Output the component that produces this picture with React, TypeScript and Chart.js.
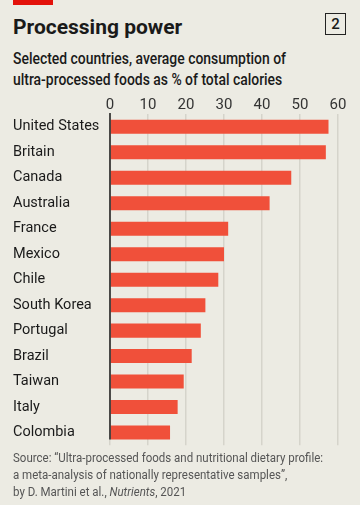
import React, { useEffect, useRef } from "react";
import { Chart, registerables } from "chart.js";

Chart.register(...registerables);

const countries = [
  "United States", "Britain", "Canada", "Australia", "France", "Mexico", "Chile",
  "South Korea", "Portugal", "Brazil", "Taiwan", "Italy", "Colombia",
];
const sharePct = [57.5, 56.8, 47.7, 42.0, 31.1, 30.0, 28.5, 25.1, 23.9, 21.5, 19.4, 17.8, 15.8];
const xTicks = [0, 10, 20, 30, 40, 50, 60];

const BG = "#ECEBE3";
const BAR = "#F0503A";
const FONT = "Roboto, 'Noto Sans', sans-serif";

const zeroLine = {
  id: "zeroLine",
  afterDatasetsDraw(chart: any) {
    const { ctx, chartArea, scales } = chart;
    const meta = chart.getDatasetMeta(0);
    const last: any = meta.data[meta.data.length - 1];
    const x = scales.x.getPixelForValue(0);
    ctx.save();
    ctx.strokeStyle = "#1a1a1a";
    ctx.lineWidth = 1.5;
    ctx.beginPath();
    ctx.moveTo(x, chartArea.top - 1);
    ctx.lineTo(x, last.y + last.height / 2);
    ctx.stroke();
    ctx.restore();
  },
};

export default function App() {
  const ref = useRef<HTMLCanvasElement>(null);
  useEffect(() => {
    document.body.style.margin = "0";
    const chart = new Chart(ref.current!, {
      type: "bar",
      data: {
        labels: countries,
        datasets: [{ data: sharePct, backgroundColor: BAR, barPercentage: 0.55, categoryPercentage: 1 }],
      },
      options: {
        indexAxis: "y",
        animation: false,
        responsive: false,
        maintainAspectRatio: false,
        layout: { padding: { left: 13, right: 22, top: 0, bottom: 0 } },
        plugins: { legend: { display: false }, tooltip: { enabled: false } },
        scales: {
          x: {
            position: "top",
            min: 0,
            max: 60,
            afterBuildTicks: (s: any) => { s.ticks = xTicks.map((v) => ({ value: v })); },
            ticks: { color: "#333", font: { family: FONT, size: 15 }, padding: 0 },
            grid: { color: "#D5D4CB", lineWidth: 1.5, drawTicks: false },
            border: { display: false },
          },
          y: {
            afterFit: (s: any) => { s.width = 97; },
            ticks: { crossAlign: "far", color: "#1a1a1a", font: { family: FONT, size: 14.5 }, padding: 0 },
            grid: { display: false },
            border: { display: false },
          },
        },
      },
      plugins: [zeroLine],
    });
    return () => chart.destroy();
  }, []);

  return (
    <div style={{ position: "relative", width: 360, height: 505, background: BG, fontFamily: FONT, overflow: "hidden" }}>
      <div style={{ position: "absolute", left: 13, top: 0, width: 40, height: 5, background: "#E3120B" }} />
      <div style={{ position: "absolute", left: 13, top: 15, fontSize: 21, fontWeight: 700, color: "#1a1a1a" }}>Processing power</div>
      <div style={{ position: "absolute", left: 325, top: 13, width: 19, height: 20, border: "1.5px solid #222", fontSize: 15, fontWeight: 500, color: "#1a1a1a", textAlign: "center", lineHeight: "20px" }}>2</div>
      <div style={{ position: "absolute", left: 13, top: 48, fontSize: 16, fontWeight: 500, color: "#1a1a1a", lineHeight: "21px", width: 400, whiteSpace: "nowrap", transform: "scaleX(0.87)", transformOrigin: "left top" }}>
        Selected countries, average consumption of<br />ultra-processed foods as % of total calories
      </div>
      <canvas ref={ref} width={360} height={358} style={{ position: "absolute", left: 0, top: 96 }} />
      <div style={{ position: "absolute", left: 13, top: 448.5, fontSize: 12.5, color: "#555", lineHeight: "17px", width: 400, whiteSpace: "nowrap", transform: "scaleX(0.92)", transformOrigin: "left top" }}>
        Source: “Ultra-processed foods and nutritional dietary profile:<br />
        a meta-analysis of nationally representative samples”,<br />
        by D. Martini et al., <i>Nutrients</i>, 2021
      </div>
    </div>
  );
}
